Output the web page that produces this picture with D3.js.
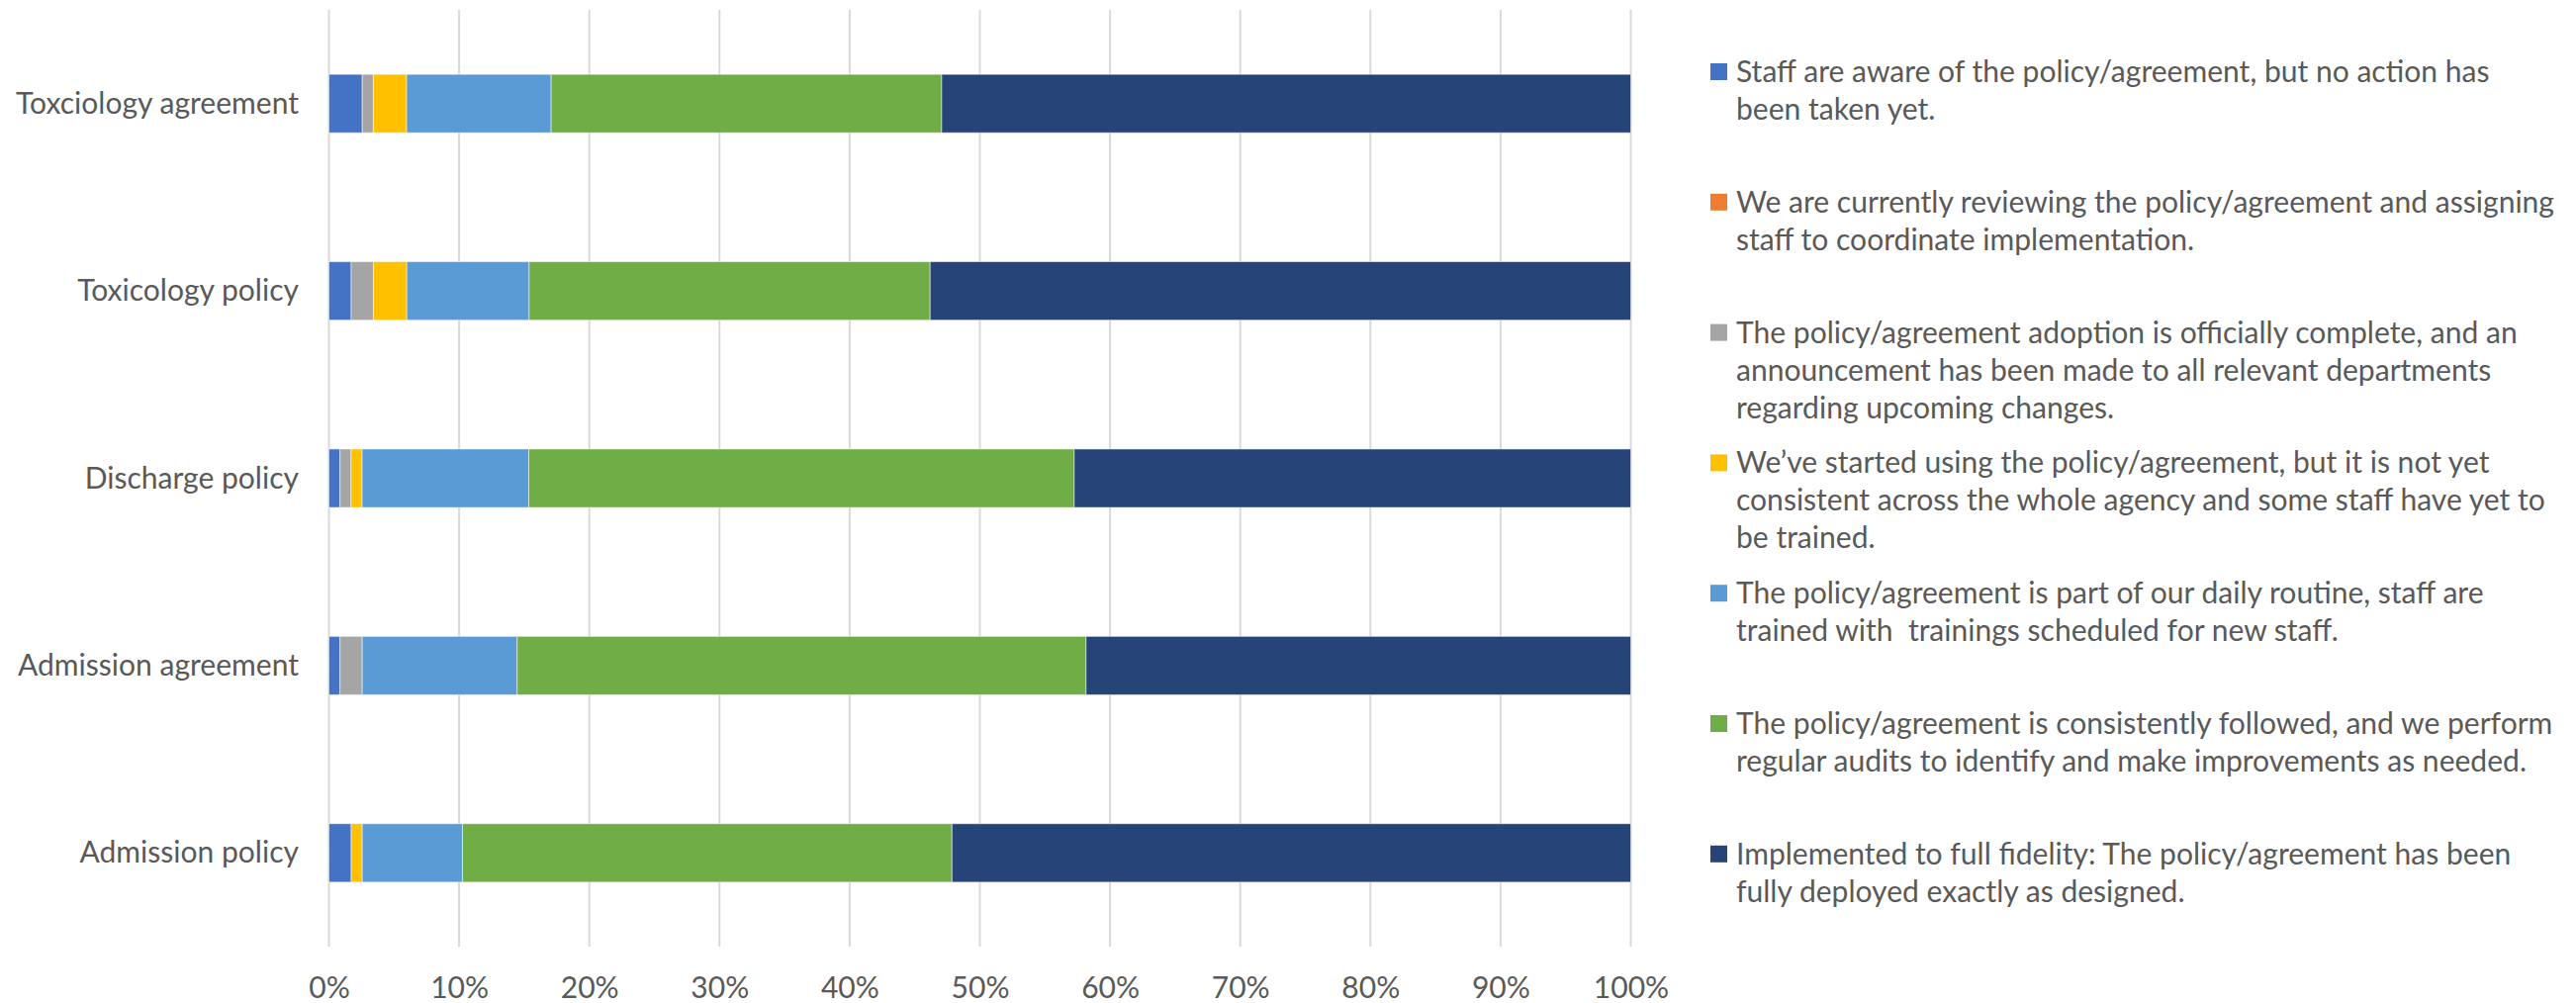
<!DOCTYPE html>
<html>
<head>
<meta charset="utf-8">
<script src="https://cdn.jsdelivr.net/npm/d3@7"></script>
<style>
  html, body { margin: 0; padding: 0; background: #fff; }
  svg { display: block; }
  text { font-family: Lato, "Open Sans", sans-serif; fill: #595959; white-space: pre; }
</style>
</head>
<body>
<svg id="chart" width="2604" height="1014"></svg>
<script>
// ---- Data (top-to-bottom order as displayed) ----
const categories = ["Toxciology agreement", "Toxicology policy", "Discharge policy", "Admission agreement", "Admission policy"];

const seriesNames = [
  "Staff are aware of the policy/agreement, but no action has\nbeen taken yet.",
  "We are currently reviewing the policy/agreement and assigning\nstaff to coordinate implementation.",
  "The policy/agreement adoption is officially complete, and an\nannouncement has been made to all relevant departments\nregarding upcoming changes.",
  "We\u2019ve started using the policy/agreement, but it is not yet\nconsistent across the whole agency and some staff have yet to\nbe trained.",
  "The policy/agreement is part of our daily routine, staff are\ntrained with  trainings scheduled for new staff.",
  "The policy/agreement is consistently followed, and we perform\nregular audits to identify and make improvements as needed.",
  "Implemented to full fidelity: The policy/agreement has been\nfully deployed exactly as designed."
];

const seriesColors = ["#4472C4", "#ED7D31", "#A5A5A5", "#FFC000", "#5B9BD5", "#70AD47", "#264478"];

// percent values per series, in category order
const aware       = [2.56, 1.71, 0.85, 0.85, 1.71];
const reviewing   = [0, 0, 0, 0, 0];
const adopted     = [0.85, 1.71, 0.85, 1.71, 0];
const started     = [2.56, 2.56, 0.85, 0, 0.85];
const routine     = [11.1, 9.4, 12.8, 11.9, 7.7];
const followed    = [30.0, 30.8, 41.9, 43.7, 37.6];
const fullFidelity= [52.93, 53.82, 42.75, 41.84, 52.14];

const seriesValues = [aware, reviewing, adopted, started, routine, followed, fullFidelity];
const xTicks = [0, 0.1, 0.2, 0.3, 0.4, 0.5, 0.6, 0.7, 0.8, 0.9, 1.0];

// ---- Build table ----
const keys = seriesNames.map((_, i) => "s" + i);
const table = categories.map((c, ci) => {
  const row = { category: c };
  const total = d3.sum(seriesValues, s => s[ci]);
  seriesValues.forEach((s, si) => row[keys[si]] = s[ci] / total);
  return row;
});

const svg = d3.select("#chart");

// font fitting: match reference label width
const probe = svg.append("text").attr("font-size", 100).text("Toxciology agreement");
const probeW = probe.node().getComputedTextLength();
probe.remove();
const fs = Math.min(34, 100 * 286 / probeW);

const plotTop = 10, plotBottom = 957;
const x = d3.scaleLinear().domain([0, 1]).range([332.5, 1648.5]);
const y = d3.scaleBand().domain(categories).range([plotTop, plotBottom]).paddingInner(0.688).paddingOuter(0.344);

// gridlines
svg.append("g").selectAll("line").data(xTicks).join("line")
  .attr("x1", d => x(d)).attr("x2", d => x(d))
  .attr("y1", plotTop).attr("y2", plotBottom)
  .attr("stroke", "#d9d9d9").attr("stroke-width", 2);

// bars
const stack = d3.stack().keys(keys);
const stacked = stack(table);
svg.append("g").selectAll("g").data(stacked).join("g")
  .attr("fill", (d, i) => seriesColors[i])
  .selectAll("rect").data(d => d.filter(p => p[1] - p[0] > 0)).join("rect")
  .attr("x", d => x(d[0]))
  .attr("width", d => x(d[1]) - x(d[0]))
  .attr("y", d => y(d.data.category))
  .attr("height", y.bandwidth())
  .attr("stroke", "#ffffff").attr("stroke-opacity", 0.5).attr("stroke-width", 1);

// x axis labels
const xAxis = d3.axisBottom(x).tickValues(xTicks).tickFormat(d3.format(".0%")).tickSize(0).tickPadding(0);
const gx = svg.append("g").attr("transform", `translate(0, ${plotBottom})`).call(xAxis);
gx.select(".domain").remove();
gx.selectAll("text").attr("font-size", fs).attr("fill", "#595959")
  .attr("font-family", "Lato, 'Open Sans', sans-serif")
  .attr("dy", null).attr("y", 52);

// y axis labels
const yAxis = d3.axisLeft(y).tickSize(0).tickPadding(0);
const gy = svg.append("g").attr("transform", "translate(302, 0)").call(yAxis);
gy.select(".domain").remove();
gy.selectAll("text").attr("font-size", fs).attr("fill", "#595959")
  .attr("font-family", "Lato, 'Open Sans', sans-serif")
  .attr("dy", null).attr("y", 10).attr("x", 0);

// legend
const legend = svg.append("g");
const legendTop = 83, legendStep = 131.8, lineH = 38;
seriesNames.forEach((name, i) => {
  const g = legend.append("g").attr("transform", `translate(0, ${legendTop + i * legendStep})`);
  g.append("rect").attr("x", 1729).attr("y", -19).attr("width", 17).attr("height", 17).attr("fill", seriesColors[i]);
  const t = g.append("text").attr("x", 1755).attr("y", 0).attr("font-size", fs).attr("xml:space", "preserve");
  name.split("\n").forEach((line, li) => {
    t.append("tspan").attr("x", 1755).attr("y", li * lineH).text(line);
  });
});
</script>
</body>
</html>
